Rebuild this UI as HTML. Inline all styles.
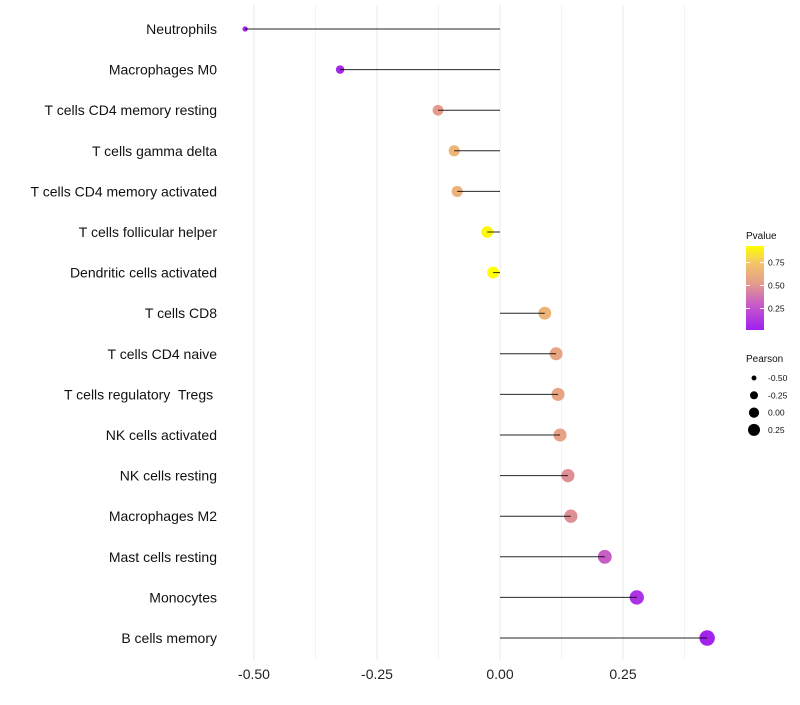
<!DOCTYPE html>
<html><head><meta charset="utf-8"><style>
body{margin:0;background:#fff;}
svg{font-family:"Liberation Sans",sans-serif;}
text{white-space:pre;}
</style></head><body>
<svg id="chart" width="800" height="700"></svg>
<script>
const categories=["Neutrophils","Macrophages M0","T cells CD4 memory resting","T cells gamma delta","T cells CD4 memory activated","T cells follicular helper","Dendritic cells activated","T cells CD8","T cells CD4 naive","T cells regulatory  Tregs ","NK cells activated","NK cells resting","Macrophages M2","Mast cells resting","Monocytes","B cells memory"];
const pearson=[-0.518,-0.325,-0.126,-0.093,-0.087,-0.026,-0.014,0.091,0.114,0.118,0.122,0.138,0.144,0.213,0.278,0.421];
const pvalues=[0.02,0.05,0.52,0.66,0.64,0.9,0.93,0.65,0.57,0.57,0.55,0.48,0.48,0.3,0.1,0.03];
const xTicks=[-0.5,-0.25,0,0.25];
const xTickLabels=["-0.50","-0.25","0.00","0.25"];
const pTicks=[0.25,0.5,0.75];
const pTickLabels=["0.25","0.50","0.75"];
const sizeTicks=[-0.5,-0.25,0,0.25];
const sizeTickLabels=["-0.50","-0.25","0.00","0.25"];

const NS="http://www.w3.org/2000/svg";
const svg=document.getElementById('chart');
function mk(t,a,p){const e=document.createElementNS(NS,t);for(const k in a)e.setAttribute(k,a[k]);(p||svg).appendChild(e);return e;}
const x=v=>500+v*492;
const y=i=>29+i*40.6;
const r=v=>Math.sqrt(Math.max(1,36+56*v));
const pMin=0.016,pMax=0.93;
const stops=[[0,[160,32,240]],[0.3,[200,90,200]],[0.55,[228,155,140]],[0.8,[243,198,105]],[1,[255,255,0]]];
function col(p){let t=(p-pMin)/(pMax-pMin);t=Math.max(0,Math.min(1,t));
 for(let i=1;i<stops.length;i++){if(t<=stops[i][0]){const a=stops[i-1],b=stops[i];const f=(t-a[0])/(b[0]-a[0]);
 const c=a[1].map((v,j)=>Math.round(v+(b[1][j]-v)*f));return `rgb(${c})`;}}return 'rgb(255,255,0)';}

for(let v=-0.5;v<=0.45;v+=0.125){
 const g=mk('line',{x1:x(v),x2:x(v),y1:5,y2:660,stroke:'#ebebeb','stroke-width':Math.abs((v*4)%1)<1e-6?1.1:0.6});
 
 
}
xTicks.forEach((v,i)=>{
 const t=mk('text',{x:x(v),y:679,'text-anchor':'middle','font-size':14,fill:'#222'});t.textContent=xTickLabels[i];
 
 
});
categories.forEach((c,i)=>{
 const t=mk('text',{x:217,y:y(i)+5,'text-anchor':'end','font-size':14,fill:'#111'});t.textContent=c;
 
 
 const d=mk('circle',{cx:x(pearson[i]),cy:y(i),r:r(pearson[i]),fill:col(pvalues[i])});
 
 
});
categories.forEach((c,i)=>{
 const l=mk('line',{x1:x(0),x2:x(pearson[i]),y1:y(i),y2:y(i),stroke:'#000','stroke-width':1,'stroke-opacity':0.85});
 
 
});
const defs=mk('defs',{});const lg=mk('linearGradient',{id:'pg',x1:0,y1:1,x2:0,y2:0},defs);
stops.forEach(s=>mk('stop',{offset:s[0],'stop-color':`rgb(${s[1]})`},lg));
const lt=mk('text',{x:746,y:239,'font-size':10,fill:'#111'});lt.textContent='Pvalue';


const bar=mk('rect',{x:746,y:246,width:18,height:84,fill:'url(#pg)'});


const py=p=>330-(p-pMin)/(pMax-pMin)*84;
pTicks.forEach((p,i)=>{
 mk('line',{x1:746,x2:750,y1:py(p),y2:py(p),stroke:'#fff'});mk('line',{x1:760,x2:764,y1:py(p),y2:py(p),stroke:'#fff'});
 const t=mk('text',{x:768,y:py(p)+3,'font-size':8.5,fill:'#111'});t.textContent=pTickLabels[i];
 
 
});
const st=mk('text',{x:746,y:362,'font-size':10,fill:'#111'});st.textContent='Pearson';


const lr=v=>Math.sqrt(26+40*v);
sizeTicks.forEach((v,i)=>{
 const cy=378+i*17.3;
 const c=mk('circle',{cx:754,cy:cy,r:lr(v),fill:'#000'});
 
 
 const t=mk('text',{x:768,y:cy+3,'font-size':8.5,fill:'#111'});t.textContent=sizeTickLabels[i];
 
 
});
</script>
</body></html>
